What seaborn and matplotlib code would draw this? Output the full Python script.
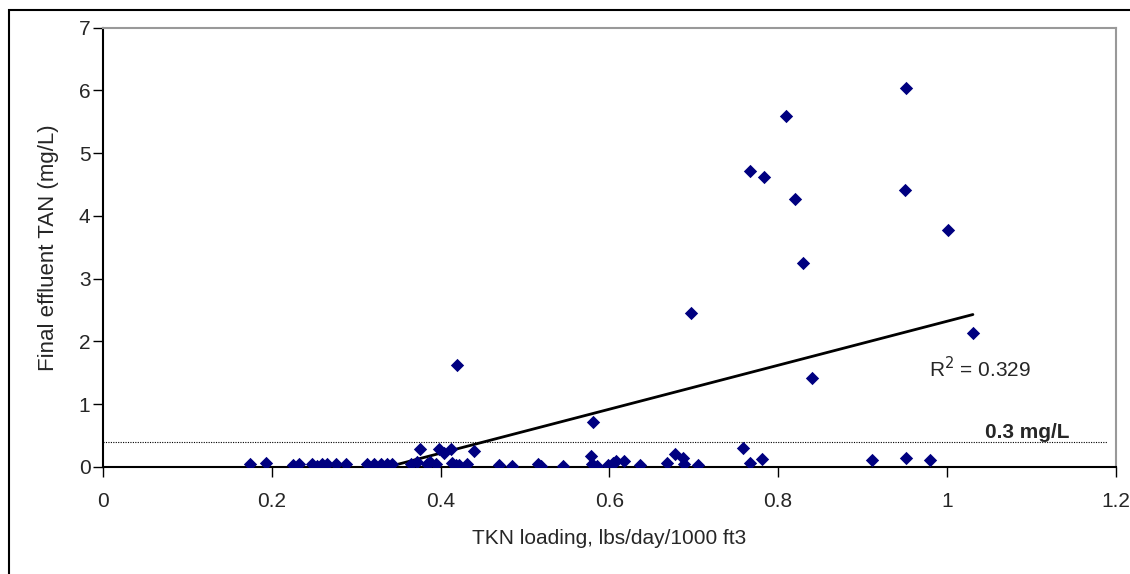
import numpy as np
import pandas as pd
import seaborn as sns
import matplotlib.pyplot as plt
from matplotlib.patches import Rectangle

# TKN loading (lbs/day/1000 ft3) and final effluent TAN (mg/L)
tkn = [0.174, 0.193, 0.225, 0.232, 0.248, 0.254, 0.260, 0.266, 0.276, 0.288,
       0.313, 0.321, 0.329, 0.337, 0.342, 0.365, 0.372, 0.376, 0.384, 0.388,
       0.395, 0.398, 0.404, 0.412, 0.414, 0.418, 0.419, 0.422, 0.432, 0.440,
       0.469, 0.485, 0.515, 0.519, 0.545, 0.578, 0.581, 0.580, 0.585, 0.598,
       0.604, 0.608, 0.618, 0.637, 0.668, 0.678, 0.687, 0.689, 0.705, 0.697,
       0.759, 0.767, 0.781, 0.767, 0.784, 0.810, 0.820, 0.830, 0.840, 0.912,
       0.950, 0.952, 0.952, 0.980, 1.002, 1.031]
tan = [0.04, 0.07, 0.03, 0.05, 0.05, 0.02, 0.04, 0.05, 0.05, 0.05,
       0.05, 0.05, 0.05, 0.05, 0.05, 0.05, 0.08, 0.28, 0.05, 0.08,
       0.05, 0.28, 0.22, 0.28, 0.06, 0.03, 1.62, 0.03, 0.05, 0.26,
       0.03, 0.02, 0.05, 0.02, 0.02, 0.17, 0.72, 0.05, 0.02, 0.03,
       0.06, 0.10, 0.10, 0.03, 0.06, 0.20, 0.14, 0.04, 0.03, 2.45,
       0.30, 0.07, 0.13, 4.71, 4.62, 5.59, 4.27, 3.25, 1.41, 0.11,
       4.41, 6.03, 0.15, 0.11, 3.78, 2.13]

# Excel linear trendline as drawn on the chart (slope, intercept)
trend = [3.5, -1.18]

limit_y = 0.4
limit_label = '0.3 mg/L'
r2_label = 'R$^2$ = 0.329'

df = pd.DataFrame({'tkn': tkn, 'tan': tan})

sns.set_style('white')
plt.rcParams['font.family'] = ['Liberation Sans', 'DejaVu Sans']

fig = plt.figure(figsize=(11.3, 5.74), dpi=100)
ax = fig.add_axes([103 / 1130, 1 - 467 / 574, (1115.5 - 103) / 1130, (467 - 27.5) / 574])

sns.scatterplot(data=df, x='tkn', y='tan', marker='D', color='#000080',
                s=46, linewidth=0, ax=ax, zorder=3)

xs = np.array([df['tkn'].min(), df['tkn'].max()])
ax.plot(xs, np.polyval(trend, xs), color='black', lw=2, zorder=2)

ax.axhline(limit_y, xmin=0, xmax=1.19 / 1.2, color='black', lw=0.8, ls=(0, (1, 1.2)))
ax.text(1.045, limit_y + 0.15, limit_label, fontsize=15, fontweight='bold', va='center')
ax.text(0.979, 1.57, r2_label, fontsize=15, va='center')

ax.set_xlim(0, 1.2)
ax.set_ylim(0, 7)
ax.set_xticks(np.arange(0, 1.21, 0.2))
ax.set_xticklabels(['0', '0.2', '0.4', '0.6', '0.8', '1', '1.2'])
ax.set_yticks(range(8))
ax.tick_params(axis='both', labelsize=15, direction='out', length=7, width=1,
               color='black', bottom=True, left=True)
ax.tick_params(axis='x', pad=11)
ax.tick_params(axis='y', pad=2)
ax.set_xlabel('TKN loading, lbs/day/1000 ft3', fontsize=15, labelpad=13)
ax.set_ylabel('Final effluent TAN (mg/L)', fontsize=16, labelpad=14)

for side in ['top', 'right']:
    ax.spines[side].set_color('#999999')
    ax.spines[side].set_linewidth(1.5)
for side in ['left', 'bottom']:
    ax.spines[side].set_color('black')
    ax.spines[side].set_linewidth(1.5)

# outer chart frame
fig.patches.append(Rectangle((9 / 1130, -0.1), 1.2, 1 - 10 / 574 + 0.1,
                             transform=fig.transFigure, fill=False,
                             edgecolor='black', lw=1.5))

fig.savefig('out.png', dpi=100)
